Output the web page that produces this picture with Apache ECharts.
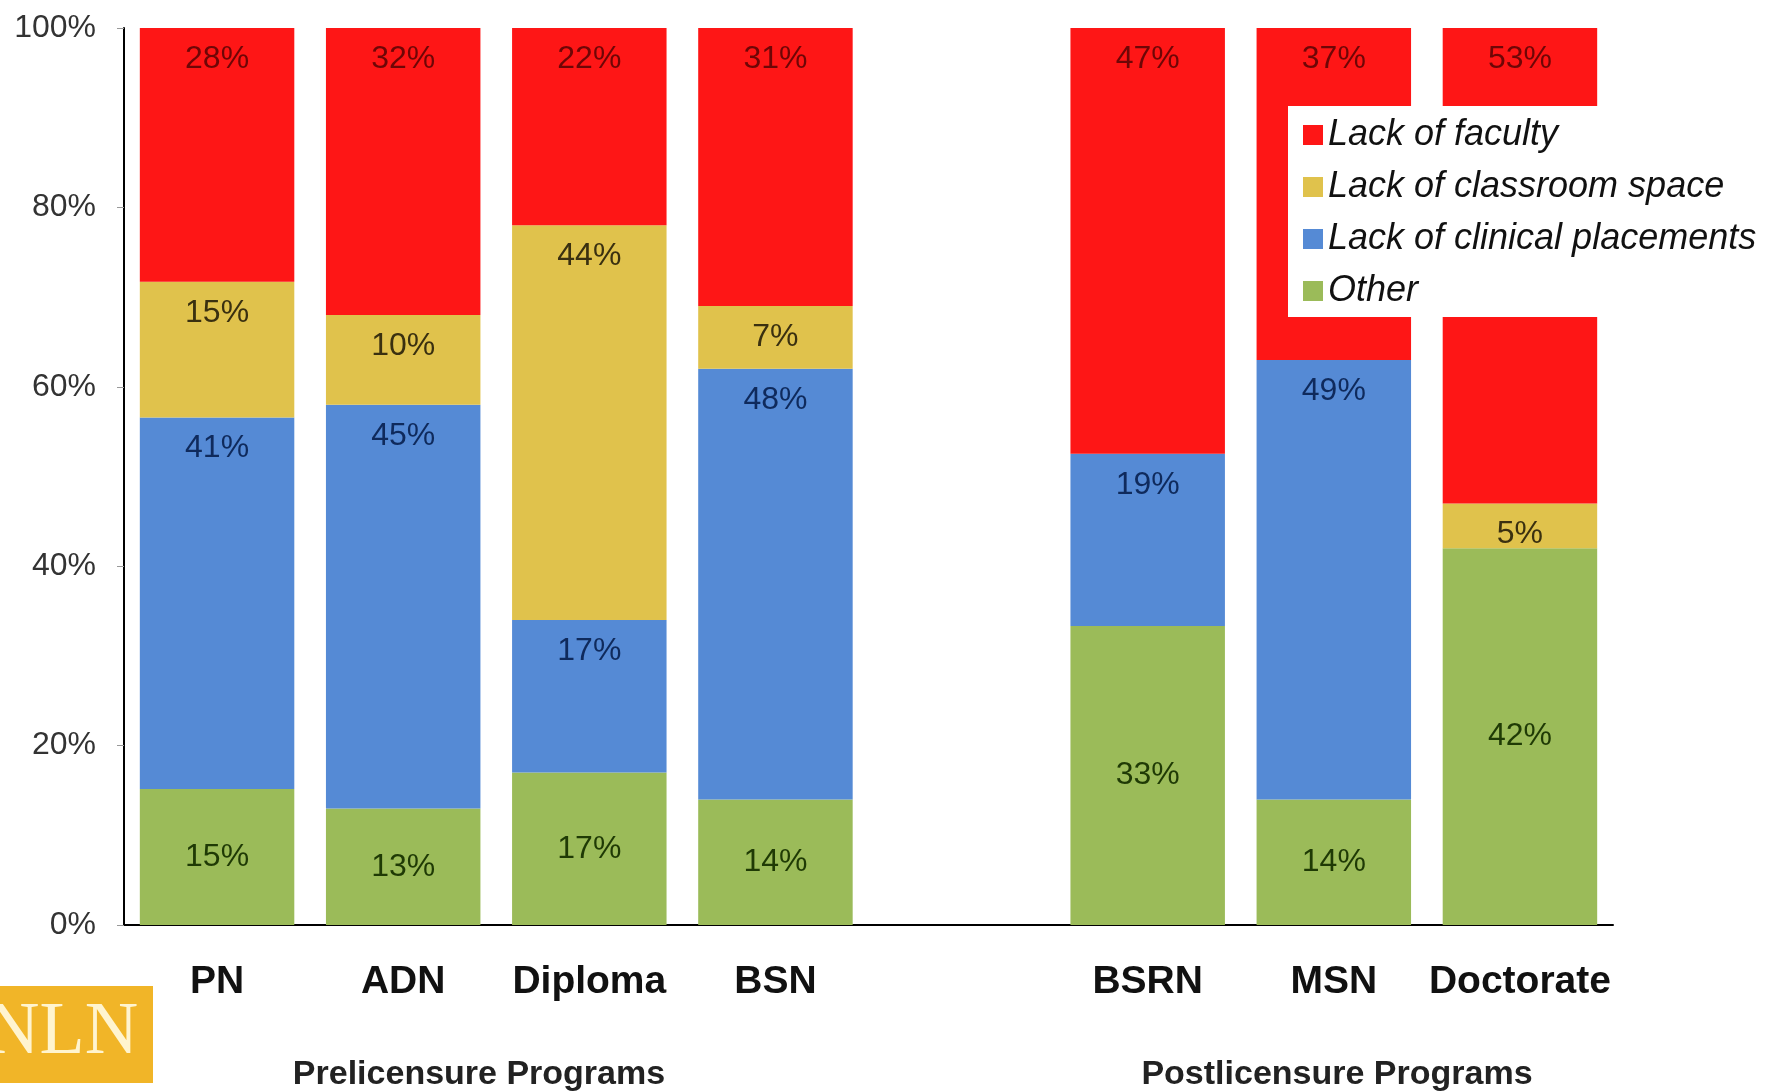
<!DOCTYPE html>
<html>
<head>
<meta charset="utf-8">
<script src="https://cdn.jsdelivr.net/npm/echarts@6/dist/echarts.min.js"></script>
<style>
html,body{margin:0;padding:0;background:#fff;}
#chart{width:1781px;height:1091px;}
</style>
</head>
<body>
<div id="chart"></div>
<script>
// Programs (the empty entry is the gap between the two groups)
const categories = ['PN', 'ADN', 'Diploma', 'BSN', '', 'BSRN', 'MSN', 'Doctorate'];
// Percentages read from the bar labels (null = no segment)
const other     = [15, 13, 17, 14, null, 33, 14, 42];
const clinical  = [41, 45, 17, 48, null, 19, 49, null];
const classroom = [15, 10, 44,  7, null, null, null, 5];
const faculty   = [28, 32, 22, 31, null, 47, 37, 53];
const yTicks = [0, 20, 40, 60, 80, 100];
const groupLabels = ['Prelicensure Programs', 'Postlicensure Programs'];

const seriesDefs = [
  { name: 'Other', raw: other, color: '#9BBB59', text: '#1f3a05', pos: 'inside' },
  { name: 'Lack of clinical placements', raw: clinical, color: '#558AD5', text: '#0f2a5c', pos: 'insideTop' },
  { name: 'Lack of classroom space', raw: classroom, color: '#E0C24C', text: '#3a3010', pos: 'insideTop' },
  { name: 'Lack of faculty', raw: faculty, color: '#FE1616', text: '#6e0606', pos: 'insideTop' }
];

// 100% stacked: each column normalised by its total
const totals = categories.map((c, i) =>
  seriesDefs.reduce((s, d) => s + (d.raw[i] || 0), 0));

const FONT = 'Liberation Sans';

const series = seriesDefs.map(d => ({
  name: d.name,
  type: 'bar',
  stack: 'all',
  barCategoryGap: '17%',
  data: d.raw.map((v, i) => v == null ? null : v / totals[i] * 100),
  itemStyle: { color: d.color },
  label: {
    show: true,
    position: d.pos,
    distance: 15,
    fontFamily: FONT,
    fontSize: 32,
    color: d.text,
    formatter: p => d.raw[p.dataIndex] == null ? '' : d.raw[p.dataIndex] + '%'
  },
  emphasis: { disabled: true }
}));

const chart = echarts.init(document.getElementById('chart'));
chart.setOption({
  animation: false,
  backgroundColor: '#ffffff',
  grid: { left: 124, right: 168, top: 28, bottom: 166 },
  xAxis: {
    type: 'category',
    data: categories,
    axisLine: { lineStyle: { color: '#000', width: 2 } },
    axisTick: { show: false },
    axisLabel: {
      interval: 0, margin: 38,
      fontFamily: FONT, fontSize: 39, fontWeight: 'bold', color: '#111'
    }
  },
  yAxis: {
    type: 'value',
    min: yTicks[0], max: yTicks[yTicks.length - 1], interval: yTicks[1] - yTicks[0],
    splitLine: { show: false },
    axisLine: { show: true, lineStyle: { color: '#000', width: 2 } },
    axisTick: { show: true, length: 7, lineStyle: { color: '#999' } },
    axisLabel: {
      margin: 28, fontFamily: FONT, fontSize: 32, color: '#333',
      formatter: '{value}%'
    }
  },
  legend: {
    data: ['Lack of faculty', 'Lack of classroom space', 'Lack of clinical placements', 'Other'],
    orient: 'vertical',
    left: 1288, top: 106,
    padding: [11, 40, 8, 15],
    itemWidth: 20, itemHeight: 20,
    itemGap: 16,
    icon: 'rect',
    backgroundColor: '#ffffff',
    selectedMode: false,
    textStyle: { fontFamily: FONT, fontSize: 36, fontStyle: 'italic', color: '#111' }
  },
  graphic: [
    {
      type: 'rect', left: 0, top: 986,
      shape: { width: 153, height: 97 },
      style: { fill: '#F1B528' }
    },
    {
      type: 'text', x: -14, y: 1034,
      style: {
        text: 'NLN', font: '74px "Liberation Serif"', fill: '#FFF4CF',
        textVerticalAlign: 'middle', textAlign: 'left'
      }
    },
    {
      type: 'text', x: 479, y: 1075,
      style: {
        text: groupLabels[0], font: 'bold 34px "Liberation Sans"', fill: '#222',
        textAlign: 'center', textVerticalAlign: 'middle'
      }
    },
    {
      type: 'text', x: 1337, y: 1075,
      style: {
        text: groupLabels[1], font: 'bold 34px "Liberation Sans"', fill: '#222',
        textAlign: 'center', textVerticalAlign: 'middle'
      }
    }
  ],
  series: series
});
</script>
</body>
</html>
